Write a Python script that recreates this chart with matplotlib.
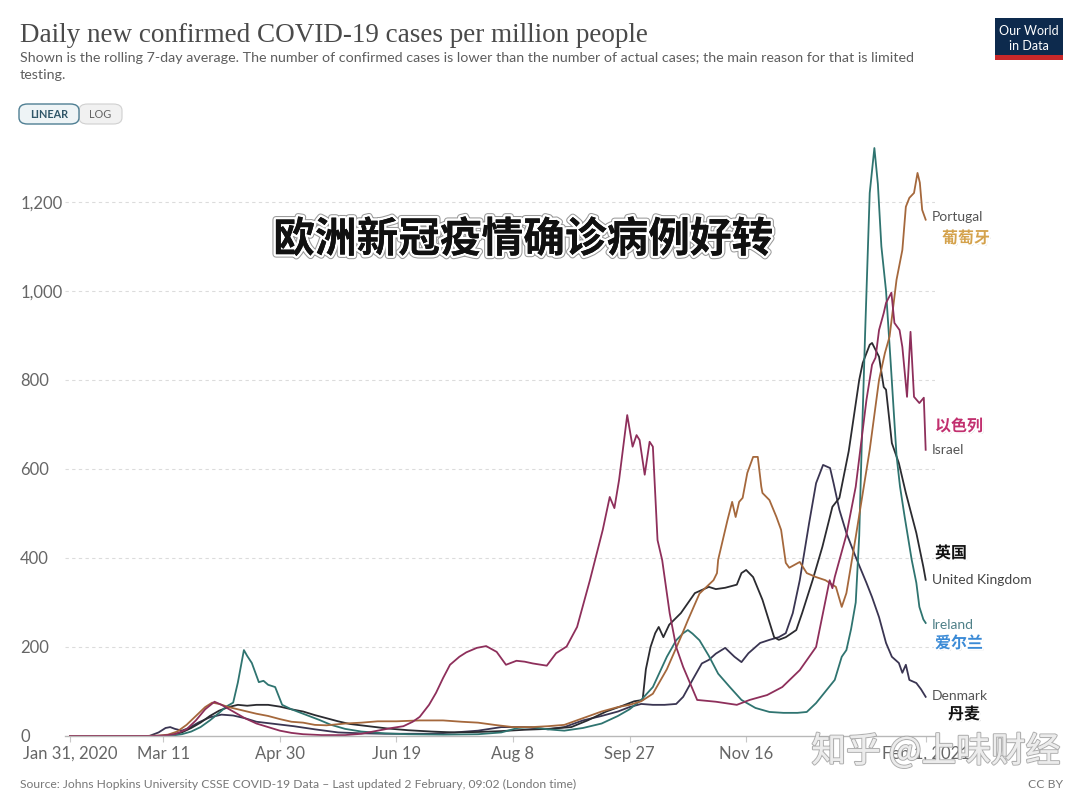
import numpy as np
import pandas as pd
import matplotlib
matplotlib.use('Agg')
import matplotlib.pyplot as plt
import matplotlib.patheffects as pe
from matplotlib.patches import FancyBboxPatch, Rectangle

W, H = 1080, 797
START = pd.Timestamp('2020-01-31')

# days since Jan 31, 2020 -> rolling 7-day average of new cases per million
ireland_days = [0, 30, 38, 44, 48, 52, 56, 60, 64, 67, 70, 72, 74.6, 76, 78, 81, 83, 85, 88, 91,
                95, 99, 103, 107, 112, 118, 125, 135, 145, 160, 175, 185, 192, 198, 205, 212,
                220, 228, 235, 240, 245, 250, 256, 260, 263, 265, 267, 270, 274, 278, 283, 288,
                294, 300, 306, 312, 316, 320, 324, 328, 331, 333, 335, 337, 338.5, 339.5, 341,
                343, 345, 346.5, 348, 350, 352, 354.5, 356, 358, 361, 363, 364.3, 366, 367]
ireland_vals = [0, 0, 0, 1, 4, 10, 20, 35, 52, 66, 75, 120, 193, 180, 164, 121, 124, 115, 110, 70,
                60, 52, 44, 36, 25, 16, 10, 6, 4, 3, 4, 8, 18, 20, 15, 12,
                18, 28, 45, 60, 81, 110, 178, 215, 231, 238, 230, 215, 180, 140, 110, 81,
                63, 54, 52, 52, 54, 74, 100, 126, 178, 193, 240, 300, 450, 640, 900,
                1220, 1321, 1240, 1100, 1000, 838, 630, 560, 492, 396, 344, 290, 262, 254]

denmark_days = [0, 34, 38, 41, 43, 45, 48, 51, 55, 60, 65, 70, 75, 80, 88, 96, 105, 115, 125,
                135, 145, 155, 165, 175, 185, 195, 205, 212, 220, 228, 235, 240, 245, 250, 255,
                260, 263, 267, 271, 274, 277, 281, 285, 288, 291, 296, 300, 304, 307, 310, 313,
                317, 320, 323, 326, 327.5, 330, 333, 337, 341.6, 344, 347, 350, 352.5, 355.5,
                357, 358.5, 360, 363, 365, 367]
denmark_vals = [0, 0, 8, 18, 20, 16, 12, 18, 30, 42, 48, 46, 40, 32, 27, 22, 15, 8, 6,
                5, 5, 5, 8, 12, 20, 20, 15, 20, 35, 45, 55, 65, 72, 70, 70,
                72, 88, 126, 163, 171, 185, 198, 178, 166, 186, 209, 216, 222, 231, 276, 350,
                478, 568, 609, 602, 568, 508, 456, 402, 344, 312, 267, 209, 178, 164,
                142, 160, 126, 119, 105, 88]

uk_days = [0, 40, 44, 48, 52, 56, 60, 64, 68, 72, 76, 80, 85, 90, 95, 100, 105, 110, 115, 120,
           128, 136, 145, 155, 165, 175, 185, 195, 205, 215, 222, 230, 237, 242, 245.6, 247,
           249, 251, 252.5, 254.5, 257, 262, 268, 274, 277, 281, 286, 288, 290, 293, 297, 302,
           304, 307, 311.5, 314, 318.5, 322.7, 327, 330, 334, 338.5, 340, 343, 344, 347, 349,
           350, 352.5, 355.5, 358.5, 363, 366, 367]
uk_vals = [0, 0, 3, 8, 18, 30, 45, 57, 65, 70, 68, 70, 70, 66, 60, 55, 47, 40, 33, 27,
           22, 17, 13, 10, 8, 9, 11, 14, 16, 20, 35, 55, 68, 78, 81, 150,
           200, 231, 245, 222, 250, 276, 321, 335, 330, 333, 340, 366, 373, 357, 306, 222,
           216, 222, 238, 276, 350, 425, 515, 535, 640, 800, 838, 879, 883, 852, 784,
           778, 658, 613, 546, 456, 380, 351]

portugal_days = [0, 32, 38, 42, 46, 50, 54, 58, 61, 64, 68, 72, 76, 80, 85, 90, 95, 100, 105,
                 110, 118, 125, 132, 140, 150, 160, 168, 175, 182, 190, 198, 205, 212, 220,
                 228, 235, 240, 245, 250, 256, 262, 265, 270, 273, 276, 277.5, 278, 282, 284,
                 285.5, 287, 288.5, 290.5, 293, 295, 296.5, 297, 300, 303, 305, 307, 308.5,
                 313, 316, 320, 324, 328.5, 331, 333, 337, 343, 347, 349.5, 351.5, 354.5, 357,
                 358.5, 360, 362, 363.5, 364.5, 365.5, 367]
portugal_vals = [0, 0, 1, 3, 10, 25, 45, 65, 75, 72, 65, 60, 55, 50, 45, 38, 32, 30, 25,
                 24, 28, 30, 33, 33, 35, 35, 32, 30, 25, 20, 20, 22, 25, 40,
                 55, 65, 70, 78, 95, 150, 222, 260, 320, 335, 350, 366, 396, 485, 526,
                 492, 526, 535, 591, 627, 627, 560, 546, 530, 492, 463, 389, 378,
                 391, 366, 357, 350, 335, 290, 321, 447, 643, 800, 860, 897, 1025, 1092,
                 1189, 1209, 1220, 1265, 1243, 1182, 1160]

israel_days = [0, 35, 40, 45, 50, 54, 58, 62, 65, 70, 75, 80, 85, 90, 95, 100, 108, 118, 125,
               132, 138, 143, 147, 150, 154, 157, 160, 163, 167, 170, 174.5, 178.5, 183, 187,
               191.5, 195, 198.5, 204.5, 208.5, 213, 217.5, 223, 228.5, 231.5, 233.5, 235.5,
               239, 241.3, 243, 244.3, 246.5, 248.6, 250, 252, 254, 257.2, 260, 263, 269, 277,
               286, 291.5, 299, 305.5, 313, 320, 325.8, 327, 328, 330, 333, 337, 341.6, 344,
               345.5, 347, 349, 350, 352.3, 353.6, 355.8, 357, 359, 360.5, 362, 364.3, 366.2,
               367]
israel_vals = [0, 0, 1, 4, 15, 35, 60, 77, 70, 55, 40, 28, 20, 12, 7, 4, 2, 2, 5,
               12, 18, 22, 32, 43, 70, 97, 130, 160, 178, 188, 198, 202, 189, 160,
               169, 167, 163, 158, 186, 201, 245, 350, 463, 537, 512, 575,
               721, 650, 676, 665, 587, 661, 650, 440, 395, 276, 200, 155, 81, 77,
               70, 81, 92, 110, 148, 200, 350, 332, 357, 395, 452, 560, 755, 834,
               850, 912, 950, 973, 996, 928, 912, 874, 762, 908, 762, 748, 760,
               643]

series = [
    ('Denmark', denmark_days, denmark_vals, '#3a3552'),
    ('United Kingdom', uk_days, uk_vals, '#2b2b30'),
    ('Ireland', ireland_days, ireland_vals, '#2f7470'),
    ('Portugal', portugal_days, portugal_vals, '#a5683c'),
    ('Israel', israel_days, israel_vals, '#8e2f5b'),
]

tick_days = [0, 40, 90, 140, 190, 240, 290, 367]
tick_labels = ['Jan 31, 2020', 'Mar 11', 'Apr 30', 'Jun 19', 'Aug 8', 'Sep 27', 'Nov 16',
               'Feb 1, 2021']
y_ticks = [0, 200, 400, 600, 800, 1000, 1200]
y_labels = ['0', '200', '400', '600', '800', '1,000', '1,200']

plt.rcParams['font.family'] = ['Lato', 'DejaVu Sans']
CJK = ['Noto Sans CJK SC', 'DejaVu Sans']


def to_dates(days):
    return START + pd.to_timedelta(np.asarray(days, dtype=float), unit='D')


def px(x, y):
    return x / W, 1 - y / H


fig = plt.figure(figsize=(W / 100, H / 100), dpi=100)
fig.patch.set_facecolor('white')

# axes placed so that day 0 sits at x=70px and value 0 at y=736px
ax_left, ax_right = 65.3, 935.0
ax_bottom, ax_top = 736.0, 144.0
ax = fig.add_axes([ax_left / W, 1 - ax_bottom / H,
                   (ax_right - ax_left) / W, (ax_bottom - ax_top) / H])
ax.set_xlim(to_dates([-2])[0], to_dates([371])[0])
ax.set_ylim(0, 1330)

for name, d, v, c in series:
    ax.plot(to_dates(d), v, color=c, lw=1.3, solid_joinstyle='round')

for s in ['top', 'right', 'left']:
    ax.spines[s].set_visible(False)
ax.spines['bottom'].set_color('#b8b8b8')
ax.spines['bottom'].set_linewidth(1)

ax.set_yticks(y_ticks)
ax.set_yticklabels(y_labels)
for g in y_ticks[1:]:
    ax.axhline(g, color='#dcdcdc', lw=0.8, ls=(0, (3, 3)), zorder=0)
ax.tick_params(axis='y', length=0, pad=32.5, labelsize=12, labelcolor='#666666')
for lab in ax.get_yticklabels():
    lab.set_horizontalalignment('left')

ax.set_xticks(to_dates(tick_days))
ax.set_xticklabels(tick_labels)
ax.tick_params(axis='x', length=4, color='#c8c8c8', pad=3, labelsize=12,
               labelcolor='#666666')

# header
fig.text(*px(20, 35), 'Daily new confirmed COVID-19 cases per million people',
         family=['Liberation Serif', 'DejaVu Serif'], fontsize=19.5, color='#4a4a4a',
         va='center', ha='left')
fig.text(*px(20, 58), 'Shown is the rolling 7-day average. The number of confirmed cases is '
         'lower than the number of actual cases; the main reason for that is limited',
         fontsize=10.3, color='#5e5e5e', va='center', ha='left')
fig.text(*px(20, 75), 'testing.', fontsize=10.3, color='#5e5e5e', va='center', ha='left')

# LINEAR / LOG toggle
fig.add_artist(FancyBboxPatch(px(79, 124), 43 / W, 20 / H,
                              boxstyle='round,pad=0,rounding_size=0.008',
                              transform=fig.transFigure, fc='#f1f1f1', ec='#d0d0d0', lw=0.8))
fig.add_artist(FancyBboxPatch(px(19, 124), 60 / W, 20 / H,
                              boxstyle='round,pad=0,rounding_size=0.008',
                              transform=fig.transFigure, fc='#eef4f6', ec='#4f7f93', lw=1.0))
fig.text(*px(49, 114), 'LINEAR', fontsize=7.8, color='#2f5668', ha='center', va='center',
         weight='bold')
fig.text(*px(100, 114), 'LOG', fontsize=7.8, color='#666666', ha='center', va='center')

# OWID logo
fig.add_artist(Rectangle(px(995, 60), 68 / W, 42 / H, transform=fig.transFigure,
                         fc='#0d2a4d', ec='none'))
fig.add_artist(Rectangle(px(995, 60), 68 / W, 5 / H, transform=fig.transFigure,
                         fc='#c8282a', ec='none'))
fig.text(*px(1029, 31), 'Our World', fontsize=9, color='white', ha='center', va='center')
fig.text(*px(1029, 46), 'in Data', fontsize=9, color='white', ha='center', va='center')

# end labels
end_labels = [
    ('Portugal', 932, 217, '#555555'),
    ('Israel', 932, 450, '#555555'),
    ('United Kingdom', 932, 580, '#444444'),
    ('Ireland', 932, 625, '#4f8088'),
    ('Denmark', 932, 696, '#555555'),
]
for txt, x, y, c in end_labels:
    fig.text(*px(x, y), txt, fontsize=10, color=c, ha='left', va='center')

cn_labels = [
    ('葡萄牙', 942, 238, '#d4a24c'),
    ('以色列', 935, 426, '#c2306f'),
    ('英国', 935, 553, '#111111'),
    ('爱尔兰', 935, 643, '#3a8ad6'),
    ('丹麦', 948, 714, '#111111'),
]
for txt, x, y, c in cn_labels:
    t = fig.text(*px(x, y), txt, fontsize=11.5, color=c, ha='left', va='center',
                 family=CJK, weight='bold')
    t.set_path_effects([pe.withSimplePatchShadow(offset=(1, -1), shadow_rgbFace='#888888',
                                                 alpha=0.5),
                        pe.withStroke(linewidth=2.5, foreground='white')])

# big overlay caption
cap = fig.text(*px(523, 240), '欧洲新冠疫情确诊病例好转', fontsize=30, color='#111111',
               ha='center', va='center', family=CJK, weight='bold')
cap.set_path_effects([pe.withStroke(linewidth=5, foreground='#9a9a9a'),
                      pe.withStroke(linewidth=3.5, foreground='white'),
                      pe.Normal()])

# footer
fig.text(*px(20, 784), 'Source: Johns Hopkins University CSSE COVID-19 Data \u2013 Last updated '
         '2 February, 09:02 (London time)', fontsize=8.7, color='#777777', ha='left',
         va='center')
fig.text(*px(1063, 784), 'CC BY', fontsize=8.7, color='#777777', ha='right', va='center')

# watermark (sits over the last date label, as in the screenshot)
wm = fig.text(*px(936, 752), '知乎 @上味财经', fontsize=25, color='#ededed', alpha=0.9,
              ha='center', va='center', family=CJK)
wm.set_path_effects([pe.withStroke(linewidth=1.6, foreground='#a8a8a8'), pe.Normal()])

fig.savefig('out.png', dpi=100, facecolor='white')
